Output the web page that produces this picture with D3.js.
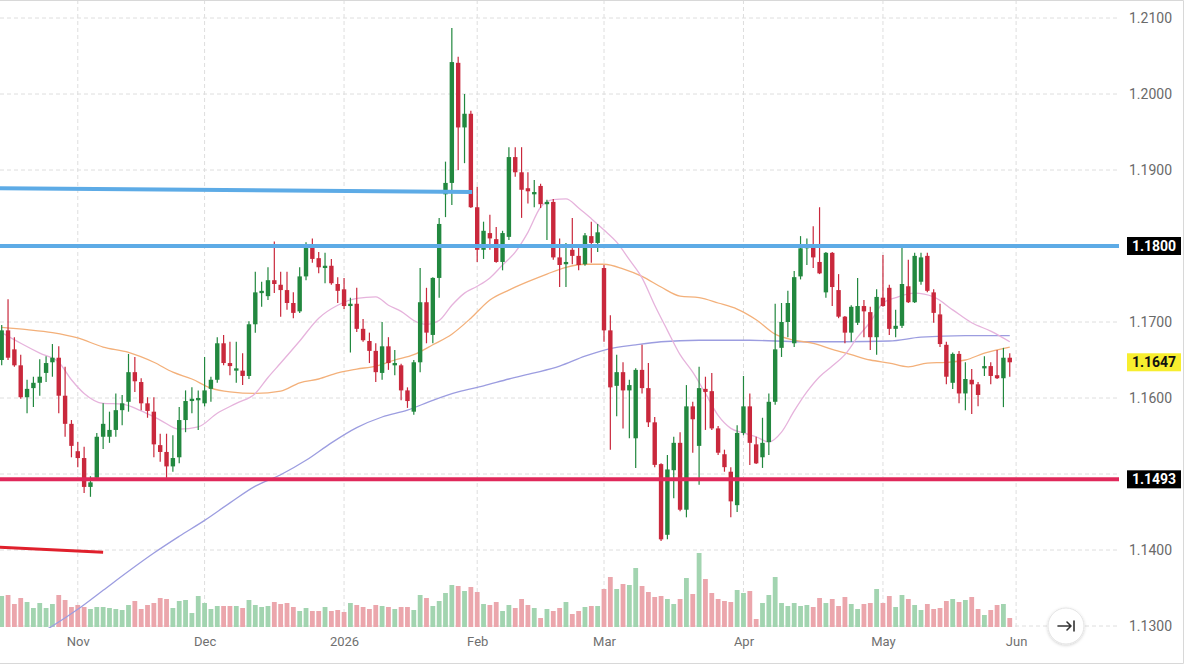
<!DOCTYPE html>
<html>
<head>
<meta charset="utf-8">
<script src="https://cdn.jsdelivr.net/npm/d3@7"></script>
<style>
  html, body { margin: 0; padding: 0; background: #fff; }
  svg { display: block; font-family: Roboto, 'Noto Sans', sans-serif; }
</style>
</head>
<body>
<div id="chart"></div>
<script>
// Daily candles, index 0 = mid-Oct 2025, last one = 29 May 2026
var opens = [1.1650,1.1689,1.1664,1.1643,1.1601,1.1613,1.1620,1.1633,1.1647,1.1653,
  1.1603,1.1566,1.1530,1.1521,1.1483,1.1495,1.1549,1.1549,1.1558,1.1584,
  1.1595,1.1634,1.1621,1.1593,1.1582,1.1538,1.1529,1.1510,1.1522,1.1571,
  1.1596,1.1597,1.1593,1.1612,1.1624,1.1672,1.1646,1.1636,1.1636,1.1629,
  1.1697,1.1738,1.1734,1.1755,1.1749,1.1742,1.1725,1.1714,1.1760,1.1799,
  1.1784,1.1771,1.1774,1.1750,1.1743,1.1721,1.1724,1.1691,1.1675,1.1662,
  1.1633,1.1668,1.1643,1.1643,1.1610,1.1582,1.1647,1.1726,1.1683,1.1758,
  1.1868,1.1883,1.2041,1.1956,1.1974,1.1851,1.1795,1.1817,1.1809,1.1779,
  1.1812,1.1917,1.1897,1.1876,1.1868,1.1879,1.1855,1.1858,1.1785,1.1776,
  1.1795,1.1787,1.1776,1.1813,1.1804,1.1771,1.1689,1.1616,1.1634,1.1610,
  1.1547,1.1637,1.1613,1.1568,1.1513,1.1420,1.1505,1.1541,1.1453,1.1589,
  1.1537,1.1612,1.1609,1.1560,1.1526,1.1503,1.1459,1.1554,1.1589,1.1539,
  1.1522,1.1542,1.1595,1.1666,1.1700,1.1672,1.1760,1.1797,1.1799,1.1779,
  1.1739,1.1791,1.1742,1.1707,1.1686,1.1699,1.1721,1.1713,1.1680,1.1732,
  1.1745,1.1691,1.1695,1.1747,1.1726,1.1753,1.1787,1.1739,1.1710,1.1670,
  1.1620,1.1658,1.1606,1.1624,1.1618,1.1639,1.1642,1.1630,1.1626,1.1653];

var highs = [1.1696,1.1730,1.1680,1.1657,1.1624,1.1628,1.1651,1.1655,1.1671,1.1668,
  1.1641,1.1571,1.1542,1.1536,1.1497,1.1554,1.1593,1.1582,1.1606,1.1604,
  1.1658,1.1654,1.1626,1.1601,1.1601,1.1553,1.1553,1.1551,1.1588,1.1610,
  1.1614,1.1610,1.1654,1.1628,1.1680,1.1683,1.1674,1.1674,1.1659,1.1701,
  1.1766,1.1753,1.1772,1.1806,1.1766,1.1766,1.1739,1.1772,1.1805,1.1810,
  1.1792,1.1791,1.1783,1.1759,1.1758,1.1732,1.1745,1.1704,1.1686,1.1672,
  1.1700,1.1680,1.1663,1.1645,1.1614,1.1650,1.1771,1.1745,1.1759,1.1837,
  1.1911,1.2087,1.2049,1.2000,1.1978,1.1878,1.1832,1.1841,1.1825,1.1820,
  1.1930,1.1930,1.1930,1.1897,1.1887,1.1882,1.1861,1.1862,1.1810,1.1804,
  1.1837,1.1799,1.1817,1.1832,1.1829,1.1775,1.1709,1.1657,1.1647,1.1624,
  1.1639,1.1670,1.1646,1.1575,1.1514,1.1525,1.1549,1.1555,1.1617,1.1595,
  1.1641,1.1628,1.1633,1.1563,1.1532,1.1509,1.1564,1.1629,1.1606,1.1549,
  1.1574,1.1606,1.1724,1.1725,1.1741,1.1767,1.1813,1.1810,1.1826,1.1851,
  1.1792,1.1792,1.1763,1.1708,1.1722,1.1758,1.1729,1.1720,1.1743,1.1788,
  1.1749,1.1716,1.1799,1.1782,1.1791,1.1791,1.1791,1.1743,1.1724,1.1674,
  1.1660,1.1662,1.1647,1.1638,1.1621,1.1655,1.1647,1.1663,1.1666,1.1659];

var lows = [1.1643,1.1650,1.1641,1.1599,1.1580,1.1588,1.1603,1.1621,1.1628,1.1580,
  1.1549,1.1522,1.1509,1.1475,1.1470,1.1492,1.1533,1.1541,1.1549,1.1564,
  1.1582,1.1608,1.1584,1.1574,1.1522,1.1516,1.1495,1.1503,1.1514,1.1555,
  1.1580,1.1558,1.1589,1.1595,1.1620,1.1643,1.1630,1.1620,1.1617,1.1625,
  1.1686,1.1720,1.1729,1.1738,1.1707,1.1716,1.1705,1.1712,1.1755,1.1778,
  1.1764,1.1751,1.1749,1.1725,1.1717,1.1660,1.1687,1.1674,1.1646,1.1621,
  1.1624,1.1637,1.1630,1.1597,1.1587,1.1578,1.1634,1.1672,1.1672,1.1732,
  1.1838,1.1854,1.1900,1.1909,1.1850,1.1779,1.1783,1.1795,1.1778,1.1768,
  1.1808,1.1891,1.1837,1.1856,1.1851,1.1850,1.1808,1.1782,1.1746,1.1746,
  1.1776,1.1768,1.1774,1.1778,1.1792,1.1674,1.1532,1.1576,1.1560,1.1547,
  1.1508,1.1606,1.1562,1.1509,1.1412,1.1414,1.1468,1.1451,1.1443,1.1528,
  1.1486,1.1558,1.1558,1.1525,1.1503,1.1443,1.1450,1.1551,1.1512,1.1513,
  1.1508,1.1525,1.1591,1.1654,1.1680,1.1667,1.1756,1.1775,1.1771,1.1763,
  1.1732,1.1721,1.1705,1.1672,1.1674,1.1696,1.1680,1.1663,1.1657,1.1720,
  1.1683,1.1680,1.1692,1.1725,1.1725,1.1749,1.1739,1.1699,1.1667,1.1618,
  1.1612,1.1593,1.1584,1.1579,1.1589,1.1629,1.1618,1.1625,1.1588,1.1628];

var closes = [1.1689,1.1653,1.1643,1.1601,1.1612,1.1620,1.1628,1.1646,1.1653,1.1603,
  1.1566,1.1537,1.1521,1.1483,1.1489,1.1549,1.1566,1.1558,1.1584,1.1593,
  1.1634,1.1622,1.1593,1.1583,1.1539,1.1529,1.1510,1.1521,1.1571,1.1596,
  1.1599,1.1600,1.1610,1.1624,1.1672,1.1646,1.1642,1.1639,1.1629,1.1697,
  1.1739,1.1741,1.1755,1.1750,1.1742,1.1725,1.1712,1.1760,1.1799,1.1783,
  1.1772,1.1774,1.1751,1.1741,1.1721,1.1724,1.1691,1.1676,1.1662,1.1634,
  1.1668,1.1646,1.1646,1.1610,1.1596,1.1647,1.1726,1.1686,1.1758,1.1829,
  1.1883,1.2042,1.1956,1.1974,1.1851,1.1795,1.1820,1.1810,1.1779,1.1817,
  1.1917,1.1897,1.1874,1.1872,1.1871,1.1855,1.1858,1.1785,1.1775,1.1779,
  1.1787,1.1775,1.1814,1.1804,1.1818,1.1689,1.1614,1.1634,1.1610,1.1617,
  1.1637,1.1613,1.1568,1.1512,1.1414,1.1506,1.1541,1.1453,1.1589,1.1572,
  1.1613,1.1608,1.1560,1.1528,1.1509,1.1464,1.1554,1.1589,1.1541,1.1514,
  1.1541,1.1595,1.1664,1.1700,1.1725,1.1759,1.1797,1.1799,1.1785,1.1764,
  1.1791,1.1746,1.1707,1.1686,1.1720,1.1721,1.1714,1.1680,1.1733,1.1721,
  1.1691,1.1695,1.1750,1.1726,1.1787,1.1785,1.1741,1.1712,1.1671,1.1628,
  1.1658,1.1606,1.1625,1.1618,1.1604,1.1642,1.1629,1.1626,1.1653,1.1647];

// volume in thousands of contracts
var volumes = [31,32,23,29,25,19,24,19,23,32, 27,20,22,20,18,20,20,19,18,17,
  22,26,18,22,24,29,28,19,26,27, 14,31,24,18,21,21,21,21,19,27,
  22,20,21,25,23,24,20,16,19,16, 16,20,16,17,15,24,22,20,18,22,
  21,20,18,20,20,17,32,29,21,26, 34,42,41,36,40,35,23,22,25,16,
  22,19,28,22,19,9,18,16,19,25, 13,16,20,21,21,38,50,38,43,42,
  59,41,35,30,31,28,23,28,49,33, 74,48,34,28,26,25,37,34,36,8,
  24,32,50,24,21,24,21,22,20,29, 24,28,21,30,23,18,23,24,38,24,
  31,20,32,28,22,17,23,18,19,26, 28,25,27,30,18,12,17,22,23,9];

// moving averages: [candle index, value]
var maFast = [[0,1.1686],[3,1.1672],[6,1.1659],[9,1.1647],[11,1.1624],[13,1.1606],[16,1.1593],
  [19,1.1592],[22,1.1583],[25,1.1571],[28,1.1559],[31,1.1562],[34,1.1580],[37,1.1593],[40,1.1606],
  [42,1.1627],[44,1.1646],[47,1.1675],[50,1.1705],[53,1.1722],[56,1.1731],[59,1.1733],[61,1.1722],
  [63,1.1714],[65,1.1702],[67,1.1697],[69,1.1702],[71,1.1722],[73,1.1738],[75,1.1747],[77,1.1758],
  [79,1.1775],[81,1.1792],[83,1.1818],[85,1.1851],[87,1.1861],[89,1.1862],[91,1.1850],[93,1.1836],
  [95,1.1821],[97,1.1805],[99,1.1782],[101,1.1758],[103,1.1722],[105,1.1689],[107,1.1657],[109,1.1634],
  [111,1.1606],[113,1.1577],[115,1.1560],[117,1.1554],[119,1.1549],[121,1.1542],[123,1.1555],[125,1.1583],
  [127,1.1608],[129,1.1628],[131,1.1642],[133,1.1657],[135,1.1680],[137,1.1700],[139,1.1725],[141,1.1732],
  [144,1.1738],[147,1.1733],[150,1.1716],[153,1.1699],[156,1.1688],[159,1.1674]];

var maMid = [[0,1.1693],[4,1.1690],[8,1.1686],[12,1.1679],[16,1.1667],[20,1.1660],[24,1.1647],
  [27,1.1634],[30,1.1625],[33,1.1613],[36,1.1608],[40,1.1606],[44,1.1609],[47,1.1620],[50,1.1625],
  [53,1.1633],[56,1.1638],[59,1.1642],[62,1.1650],[65,1.1657],[68,1.1670],[71,1.1684],[74,1.1705],
  [77,1.1729],[80,1.1742],[83,1.1753],[86,1.1763],[89,1.1772],[92,1.1776],[95,1.1776],[98,1.1770],
  [101,1.1760],[104,1.1746],[107,1.1734],[110,1.1732],[113,1.1725],[116,1.1717],[119,1.1703],[122,1.1684],
  [125,1.1676],[128,1.1672],[131,1.1664],[134,1.1657],[137,1.1650],[140,1.1646],[143,1.1641],[146,1.1646],
  [149,1.1647],[152,1.1650],[155,1.1659],[159,1.1667]];

var maSlow = [[6,1.1290],[8,1.1300],[12,1.1322],[16,1.1347],[20,1.1372],[24,1.1396],[28,1.1418],
  [32,1.1439],[36,1.1462],[40,1.1484],[44,1.1499],[48,1.1518],[52,1.1541],[56,1.1561],[60,1.1575],
  [64,1.1584],[68,1.1597],[72,1.1608],[76,1.1616],[80,1.1625],[84,1.1633],[88,1.1642],[92,1.1655],
  [96,1.1665],[100,1.1670],[104,1.1674],[110,1.1676],[118,1.1676],[126,1.1674],[133,1.1674],[140,1.1675],
  [145,1.1680],[152,1.1682],[159,1.1682]];

// drawn levels and trend lines
var levels = [1.1800, 1.1493];
var levelColors = ['#5dabe6', '#e0285a'];
var trendLines = [
  { from: [-1, 1.1876], to: [74.2, 1.1871], color: '#5dabe6', width: 4 },
  { from: [-1, 1.1404], to: [16, 1.1397], color: '#e0202c', width: 3 }
];

var priceTicks = [1.13, 1.14, 1.15, 1.16, 1.17, 1.18, 1.19, 1.20, 1.21];
var monthTicks = [12, 32, 54, 75, 95, 117, 139, 160];
var monthLabels = ['Nov', 'Dec', '2026', 'Feb', 'Mar', 'Apr', 'May', 'Jun'];

var W = 1185, H = 666;
var paneW = 1119, paneH = 628;

var x = d3.scaleLinear().domain([0, 160]).range([1.7, 1016.1]);
var y = d3.scaleLinear().domain([1.13, 1.21]).range([626, 18]);
var v = d3.scaleLinear().domain([0, 80]).range([627, 547]);

var GREEN = '#22883f', RED = '#c9283c';
var VGREEN = '#a2d4b0', VRED = '#eba6ac';

var svg = d3.select('#chart').append('svg')
  .attr('width', W)
  .attr('height', H);

svg.append('defs').append('clipPath').attr('id', 'pane')
  .append('rect').attr('x', 0).attr('y', 0).attr('width', paneW).attr('height', paneH);

var shadow = svg.select('defs').append('filter').attr('id', 'shadow')
  .attr('x', '-50%').attr('y', '-50%').attr('width', '200%').attr('height', '200%');
shadow.append('feDropShadow').attr('dx', 0).attr('dy', 1).attr('stdDeviation', 1.5)
  .attr('flood-color', '#000').attr('flood-opacity', 0.18);

// grid
var grid = svg.append('g').attr('stroke', '#dedede').attr('stroke-dasharray', '4,3');
grid.selectAll('line.h').data(priceTicks).enter().append('line')
  .attr('x1', 0).attr('x2', paneW)
  .attr('y1', function(d) { return y(d); })
  .attr('y2', function(d) { return y(d); });
grid.selectAll('line.v').data(monthTicks).enter().append('line')
  .attr('y1', 0).attr('y2', 630)
  .attr('x1', function(d) { return x(d); })
  .attr('x2', function(d) { return x(d); });

var pane = svg.append('g').attr('clip-path', 'url(#pane)');
var idx = d3.range(closes.length);
var up = function(i) { return closes[i] >= opens[i]; };

// volume
pane.append('g').selectAll('rect').data(idx).enter().append('rect')
  .attr('x', function(i) { return x(i) - 2.4; })
  .attr('width', 4.8)
  .attr('y', function(i) { return v(volumes[i]); })
  .attr('height', function(i) { return v(0) - v(volumes[i]); })
  .attr('fill', function(i) { return up(i) ? VGREEN : VRED; });

// moving averages
var line = d3.line()
  .x(function(d) { return x(d[0]); })
  .y(function(d) { return y(d[1]); })
  .curve(d3.curveMonotoneX);

[[maSlow, '#9c9de0'], [maMid, '#f3b07a'], [maFast, '#e6b3dc']].forEach(function(m) {
  pane.append('path')
    .attr('d', line(m[0]))
    .attr('fill', 'none')
    .attr('stroke', m[1])
    .attr('stroke-width', 1.3);
});

// candles
var candles = pane.append('g').selectAll('g').data(idx).enter().append('g')
  .attr('fill', function(i) { return up(i) ? GREEN : RED; })
  .attr('stroke', function(i) { return up(i) ? GREEN : RED; });

candles.append('line')
  .attr('x1', function(i) { return x(i); })
  .attr('x2', function(i) { return x(i); })
  .attr('y1', function(i) { return y(highs[i]); })
  .attr('y2', function(i) { return y(lows[i]); })
  .attr('stroke-width', 1.2);

candles.append('rect')
  .attr('stroke', 'none')
  .attr('x', function(i) { return x(i) - 2.2; })
  .attr('width', 4.4)
  .attr('y', function(i) { return y(Math.max(opens[i], closes[i])); })
  .attr('height', function(i) { return Math.max(1.2, Math.abs(y(opens[i]) - y(closes[i]))); });

// horizontal levels and trend lines
pane.selectAll('line.level').data(levels).enter().append('line')
  .attr('x1', 0).attr('x2', paneW)
  .attr('y1', function(d) { return y(d); })
  .attr('y2', function(d) { return y(d); })
  .attr('stroke', function(d, i) { return levelColors[i]; })
  .attr('stroke-width', 4);

pane.selectAll('line.trend').data(trendLines).enter().append('line')
  .attr('x1', function(d) { return x(d.from[0]); })
  .attr('y1', function(d) { return y(d.from[1]); })
  .attr('x2', function(d) { return x(d.to[0]); })
  .attr('y2', function(d) { return y(d.to[1]); })
  .attr('stroke', function(d) { return d.color; })
  .attr('stroke-width', function(d) { return d.width; });

// price tags on the axis
var tags = levels.map(function(d) { return { value: d, bg: '#000', fg: '#fff' }; });
tags.push({ value: closes[closes.length - 1], bg: '#f7ee2f', fg: '#111' });

// axis labels hidden behind a tag are dropped, as the platform does
var freeTicks = priceTicks.filter(function(t) {
  return tags.every(function(g) { return Math.abs(y(t) - y(g.value)) > 16; });
});

// price axis
var yAxis = svg.append('g')
  .attr('transform', 'translate(1122,0)')
  .call(d3.axisRight(y).tickValues(freeTicks).tickFormat(d3.format('.4f')).tickSize(0).tickPadding(7));
yAxis.select('.domain').remove();
yAxis.selectAll('text').attr('fill', '#6a6a6a').attr('font-size', 14).attr('font-family', 'Roboto, sans-serif');

// time axis
var xAxis = svg.append('g')
  .attr('transform', 'translate(0,631)')
  .call(d3.axisBottom(x).tickValues(monthTicks)
    .tickFormat(function(d, i) { return monthLabels[i]; }).tickSize(0).tickPadding(6));
xAxis.select('.domain').remove();
xAxis.selectAll('text').attr('fill', '#707070').attr('font-size', 13).attr('font-family', 'Roboto, sans-serif');

var tag = svg.append('g').selectAll('g').data(tags).enter().append('g')
  .attr('transform', function(d) { return 'translate(1127,' + y(d.value) + ')'; });
tag.append('rect')
  .attr('x', 0).attr('y', -9).attr('width', 54).attr('height', 18)
  .attr('fill', function(d) { return d.bg; });
tag.append('text')
  .attr('x', 27).attr('y', 0).attr('dy', '0.35em')
  .attr('text-anchor', 'middle')
  .attr('font-size', 14).attr('font-weight', 'bold')
  .attr('fill', function(d) { return d.fg; })
  .text(function(d) { return d3.format('.4f')(d.value); });

// scroll-to-end button
var btn = svg.append('g').attr('transform', 'translate(1066,626)');
btn.append('circle').attr('r', 18).attr('fill', '#fff').attr('stroke', '#e4e4e4')
  .attr('filter', 'url(#shadow)');
btn.append('path').attr('d', 'M-8,0 H5 M1,-4 L5,0 L1,4 M8,-5 V5')
  .attr('fill', 'none').attr('stroke', '#333').attr('stroke-width', 1.6)
  .attr('stroke-linecap', 'round').attr('stroke-linejoin', 'round');

// frame
svg.append('path')
  .attr('d', 'M0,0.5 H1183.5 V663.5 H0')
  .attr('fill', 'none').attr('stroke', '#d8d8d8');
</script>
</body>
</html>
